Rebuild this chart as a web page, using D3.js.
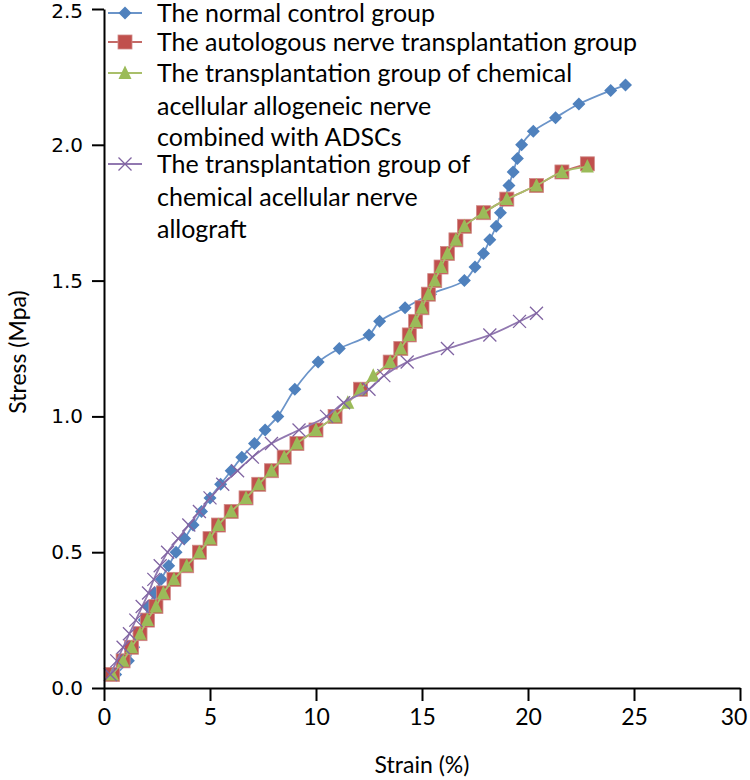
<!DOCTYPE html>
<html><head><meta charset="utf-8">
<script src="https://cdn.jsdelivr.net/npm/d3@7/dist/d3.min.js"></script>
<style>body{margin:0;background:#fff}svg{display:block}</style>
</head><body><svg id="c" width="750" height="780"></svg>
<script>
// ---- data ----
const normalStrain = [0.55,1.15,1.4,1.65,1.9,2.1,2.4,2.7,3.05,3.4,3.8,4.2,4.6,5.0,5.5,6.0,6.5,7.1,7.6,8.2,9.0,10.1,11.1,12.5,13.0,14.2,15.4,17.0,17.5,17.9,18.2,18.5,18.7,18.9,19.1,19.3,19.5,19.7,20.25,21.3,22.4,23.9,24.6];
const normalStress = [0.05,0.10,0.15,0.20,0.25,0.30,0.35,0.40,0.45,0.50,0.55,0.60,0.65,0.70,0.75,0.80,0.85,0.90,0.95,1.00,1.10,1.20,1.25,1.30,1.35,1.40,1.45,1.50,1.55,1.60,1.65,1.70,1.75,1.80,1.85,1.90,1.95,2.00,2.05,2.10,2.15,2.20,2.22];

const autoStrain = [0.4,0.9,1.3,1.7,2.05,2.45,2.8,3.3,3.9,4.5,5.0,5.4,6.0,6.7,7.3,7.9,8.5,9.1,10.0,10.9,12.1,13.5,14.0,14.4,14.7,15.0,15.3,15.6,15.9,16.2,16.6,17.0,17.9,19.0,20.4,21.6,22.8];
const autoStress = [0.05,0.10,0.15,0.20,0.25,0.30,0.35,0.40,0.45,0.50,0.55,0.60,0.65,0.70,0.75,0.80,0.85,0.90,0.95,1.00,1.10,1.20,1.25,1.30,1.35,1.40,1.45,1.50,1.55,1.60,1.65,1.70,1.75,1.80,1.85,1.90,1.93];

const adscStrain = [0.4,0.9,1.3,1.7,2.05,2.45,2.8,3.3,3.9,4.5,5.0,5.4,6.0,6.7,7.3,7.9,8.5,9.1,10.0,10.9,11.5,12.1,12.7,13.5,14.0,14.4,14.7,15.0,15.3,15.6,15.9,16.2,16.6,17.0,17.9,19.0,20.4,21.6,22.8];
const adscStress = [0.05,0.10,0.15,0.20,0.25,0.30,0.35,0.40,0.45,0.50,0.55,0.60,0.65,0.70,0.75,0.80,0.85,0.90,0.95,1.00,1.05,1.10,1.15,1.20,1.25,1.30,1.35,1.40,1.45,1.50,1.55,1.60,1.65,1.70,1.75,1.80,1.85,1.90,1.92];

const allograftStrain = [0.3,0.6,0.9,1.2,1.5,1.8,2.1,2.35,2.65,3.0,3.5,4.0,4.5,5.0,5.6,6.3,7.0,7.9,9.2,10.5,11.3,12.5,13.2,14.3,16.2,18.2,19.6,20.4];
const allograftStress = [0.05,0.10,0.15,0.20,0.25,0.30,0.35,0.40,0.45,0.50,0.55,0.60,0.65,0.70,0.75,0.80,0.85,0.90,0.95,1.00,1.05,1.10,1.15,1.20,1.25,1.30,1.35,1.38];

const seriesNames = [
  ["The normal control group"],
  ["The autologous nerve transplantation group"],
  ["The transplantation group of chemical","acellular allogeneic nerve","combined with ADSCs"],
  ["The transplantation group of","chemical acellular nerve","allograft"]
];
const xTicks = [0,5,10,15,20,25,30];
const yTicks = [0,0.5,1.0,1.5,2.0,2.5];
const xTitle = "Strain (%)";
const yTitle = "Stress (Mpa)";

// ---- chart ----
const svg = d3.select("#c");
const x = d3.scaleLinear().domain([0,30]).range([104,740]);
const y = d3.scaleLinear().domain([0,2.5]).range([688,9]);
const textFont = "Lato, 'Open Sans', sans-serif";

const series = [
  {name:seriesNames[0], xs:normalStrain, ys:normalStress, color:"#4F81BD", line:"#6b94c9", marker:"diamond"},
  {name:seriesNames[1], xs:autoStrain, ys:autoStress, color:"#C0504D", line:"#c46a67", marker:"square"},
  {name:seriesNames[2], xs:adscStrain, ys:adscStress, color:"#9BBB59", line:"#a9bf6a", marker:"triangle"},
  {name:seriesNames[3], xs:allograftStrain, ys:allograftStress, color:"#8064A2", line:"#9178b0", marker:"x"}
];

function drawMarker(g, type, color){
  if(type==="diamond"){
    g.append("path").attr("d","M0,-6.5L6.5,0L0,6.5L-6.5,0Z").attr("fill",color);
  } else if(type==="square"){
    g.append("rect").attr("x",-7).attr("y",-7).attr("width",14).attr("height",14)
      .attr("fill",color).attr("stroke","#d08a88").attr("stroke-width",0.8);
  } else if(type==="triangle"){
    g.append("path").attr("d","M0,-7.5L6.5,6L-6.5,6Z").attr("fill",color);
  } else {
    g.append("path").attr("d","M-6.5,-6.5L6.5,6.5M-6.5,6.5L6.5,-6.5").attr("stroke",color).attr("stroke-width",1.3).attr("fill","none");
  }
}

const line = d3.line().x(d=>x(d[0])).y(d=>y(d[1])).curve(d3.curveCatmullRom.alpha(0.5));

series.forEach(s=>{
  const pts = s.xs.map((v,i)=>[v,s.ys[i]]);
  const g = svg.append("g");
  g.append("path").datum(pts).attr("d",line).attr("fill","none")
    .attr("stroke",s.line).attr("stroke-width",1.8);
  g.selectAll("g.m").data(pts).enter().append("g")
    .attr("transform",d=>`translate(${x(d[0])},${y(d[1])})`)
    .each(function(){ drawMarker(d3.select(this), s.marker, s.color); });
});

// axes
const xAxis = d3.axisBottom(x).tickValues(xTicks).tickSize(13).tickSizeOuter(0).tickPadding(8);
const gx = svg.append("g").attr("transform","translate(0,688)").call(xAxis);
gx.select(".domain").attr("stroke","#000").attr("stroke-width",2);
gx.selectAll(".tick line").attr("stroke","#000").attr("stroke-width",2);
gx.selectAll(".tick text").attr("font-family",textFont).attr("font-size",23).attr("fill","#000");
gx.selectAll(".tick text").filter(d=>d===30).attr("text-anchor","end").attr("dx","0.3em");

const yAxis = d3.axisLeft(y).tickValues(yTicks).tickFormat(d3.format(".1f")).tickSize(12).tickSizeOuter(0).tickPadding(9);
const gy = svg.append("g").attr("transform","translate(104,0)").call(yAxis);
gy.select(".domain").attr("stroke","#000").attr("stroke-width",2);
gy.selectAll(".tick line").attr("stroke","#000").attr("stroke-width",2);
gy.selectAll(".tick text").attr("font-family","'DejaVu Sans', Verdana, sans-serif").attr("font-size",20).attr("fill","#000");
gy.selectAll(".tick text").filter(d=>d===2.5).attr("dy","0.42em");

svg.append("text").attr("x",422).attr("y",773).attr("text-anchor","middle")
  .attr("font-family",textFont).attr("font-size",23).attr("fill","#000").text(xTitle);
svg.append("text").attr("transform","translate(26,352) rotate(-90)").attr("text-anchor","middle")
  .attr("font-family",textFont).attr("font-size",23).attr("fill","#000").text(yTitle);

// legend
const legendRowY = [[13],[42],[73,106,137],[164,197,229]];
series.forEach((s,i)=>{
  const g = svg.append("g");
  const cy = legendRowY[i][0];
  g.append("line").attr("x1",108).attr("x2",142).attr("y1",cy).attr("y2",cy)
    .attr("stroke",s.line).attr("stroke-width",1.8);
  const mg = g.append("g").attr("transform",`translate(125,${cy})`);
  drawMarker(mg, s.marker, s.color);
  s.name.forEach((t,j)=>{
    g.append("text").attr("x",157).attr("y",legendRowY[i][j]).attr("dy","0.35em")
      .attr("font-family",textFont).attr("font-size",25).attr("fill","#000").text(t);
  });
});
</script></body></html>
